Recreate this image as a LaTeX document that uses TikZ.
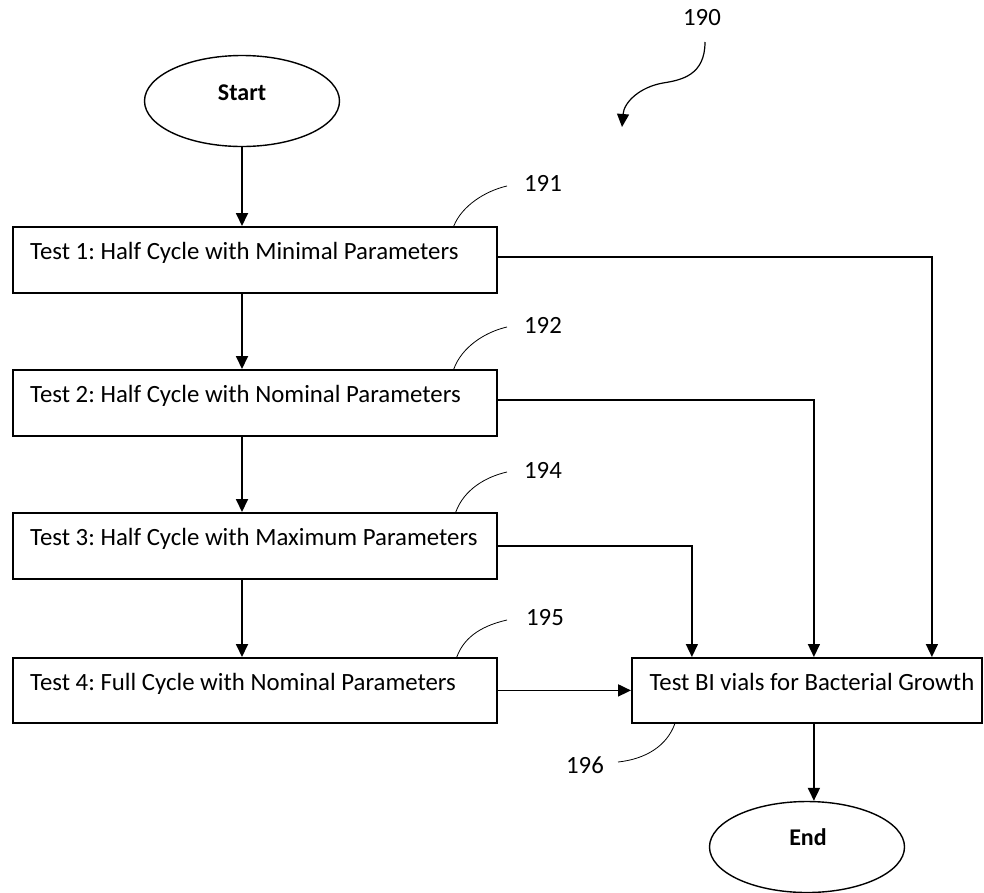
\documentclass[tikz,border=0pt]{standalone}
\usepackage{fontspec}
\setmainfont{Carlito}
\usetikzlibrary{arrows.meta,shapes.geometric}
\frenchspacing
\begin{document}
\begin{tikzpicture}[x=1pt,y=-1pt,
  font=\fontsize{24.8}{28}\selectfont,
  box/.style={draw, line width=1.8pt, rectangle, inner sep=0pt, anchor=north west,
              minimum width=484pt, minimum height=66pt},
  term/.style={draw, line width=1.4pt, ellipse, inner sep=0pt,
               minimum width=195pt, minimum height=91pt},
  txt/.style={inner sep=0pt, anchor=base west},
  lbl/.style={inner sep=0pt},
  arr/.style={line width=1.8pt, -{Triangle[length=13pt,width=12pt]}},
  route/.style={line width=1.4pt, -{Triangle[length=13pt,width=12pt]}},
  lead/.style={line width=0.8pt}]
\useasboundingbox (0,0) rectangle (984,892);

% terminals
\node[term] (st) at (242,101) {};
\node[lbl, anchor=base, font=\fontsize{24}{28}\selectfont\bfseries] (stt) at (242,100) {Start};
\node[term] (en) at (807,847) {};
\node[lbl, anchor=base, font=\fontsize{24}{28}\selectfont\bfseries] (ent) at (808,845) {End};

% test boxes
\node[box] (t1) at (12,226) {};
\node[box] (t2) at (12,369) {};
\node[box] (t3) at (12,512) {};
\node[box, minimum height=65pt] (t4) at (12,657) {};
\node[box, minimum width=350pt, minimum height=65pt] (bi) at (631,657) {};

\node[txt] (t1t) at ([xshift=18pt,yshift=-33pt]t1.north west) {Test 1: Half Cycle with Minimal Parameters};
\node[txt] (t2t) at ([xshift=18pt,yshift=-33pt]t2.north west) {Test 2: Half Cycle with Nominal Parameters};
\node[txt] (t3t) at ([xshift=18pt,yshift=-33pt]t3.north west) {Test 3: Half Cycle with Maximum Parameters};
\node[txt] (t4t) at ([xshift=18pt,yshift=-33pt]t4.north west) {Test 4: Full Cycle with Nominal Parameters};
\node[lbl, anchor=base] (bit) at ([xshift=5pt,yshift=-33pt]bi.north) {Test BI vials for Bacterial Growth};

% vertical flow
\draw[arr] (st.south) -- (st.south |- t1.north);
\draw[arr] (t1.south -| st.south) -- (t2.north -| st.south);
\draw[arr] (t2.south -| st.south) -- (t3.north -| st.south);
\draw[arr] (t3.south -| st.south) -- (t4.north -| st.south);

% routes to BI box
\draw[route] ([yshift=3pt]t1.east) -| ([xshift=125pt]bi.north);
\draw[route] ([yshift=3pt]t2.east) -| ([xshift=7pt]bi.north);
\draw[route] (t3.east) -| ([xshift=-115pt]bi.north);
\draw[arr] (t4.east) -- (bi.west);
\draw[arr] ([xshift=7pt]bi.south) -- ([xshift=7pt]bi.south |- en.north);

% reference labels
\node[lbl] (l190) at (702,18) {190};
\node[lbl] (l191) at (543,183) {191};
\node[lbl] (l192) at (543,325) {192};
\node[lbl] (l194) at (543,470) {194};
\node[lbl] (l195) at (545,618) {195};
\node[lbl] (l196) at (585,765) {196};

\coordinate (c190a) at (705,42);
\coordinate (c190b) at (622,127);
\draw[line width=1.2pt, -{Triangle[length=13pt,width=12pt]}]
  (c190a) .. controls (705,75) and (682,80) .. (663,83)
  .. controls (640,87) and (624,102) .. (c190b);

\coordinate (e191) at (507,186);
\coordinate (e192) at (507,327);
\coordinate (e194) at (507,472);
\coordinate (e195) at (507,620);
\coordinate (e196) at (618,762);
\draw[lead] ([xshift=-44pt]t1.north east) .. controls +(8,-20) and +(-22,5) .. (e191);
\draw[lead] ([xshift=-44pt]t2.north east) .. controls +(8,-22) and +(-22,5) .. (e192);
\draw[lead] ([xshift=-42pt]t3.north east) .. controls +(8,-22) and +(-22,5) .. (e194);
\draw[lead] ([xshift=-41pt]t4.north east) .. controls +(8,-22) and +(-22,5) .. (e195);
\draw[lead] ([xshift=-308pt]bi.south east) .. controls +(-8,22) and +(28,-3) .. (e196);
\end{tikzpicture}
\end{document}
